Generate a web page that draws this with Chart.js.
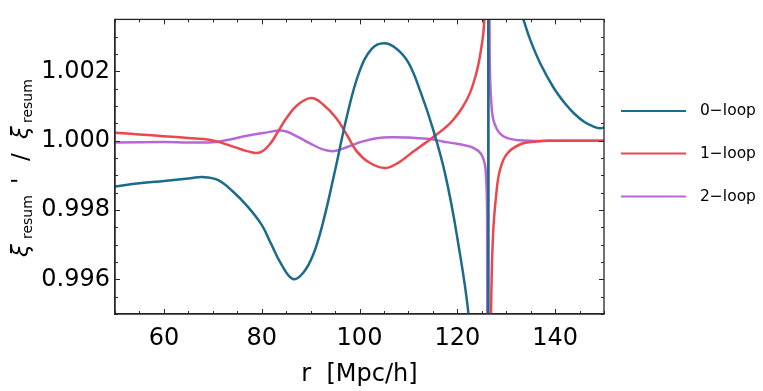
<!DOCTYPE html>
<html>
<head>
<meta charset="utf-8">
<script src="https://cdn.jsdelivr.net/npm/chart.js@4/dist/chart.umd.min.js"></script>
<style>
html, body { margin: 0; padding: 0; background: #fff; }
#wrap { width: 763px; height: 391px; }
</style>
</head>
<body>
<div id="wrap"><canvas id="grafico" width="763" height="391"></canvas></div>
<script>
// --- dados
const r0 = [50, 55, 60, 65, 68, 71, 74, 77, 80, 82, 84, 86.4, 88.5, 90.5, 92.5, 95, 97.5, 100, 102.5, 105, 107.5, 110, 112.5, 115, 117.5, 120, 122.5, 124.5, 126.3, 126.35, 128, 131, 133.5, 135, 137, 139.6, 142, 144, 146, 148, 149.2, 150];
const loop0 = [0.99868, 0.99877, 0.99884, 0.99891, 0.99895, 0.99887, 0.99855, 0.99812, 0.99757, 0.99700, 0.99644, 0.99601, 0.99619, 0.99670, 0.99762, 0.99914, 1.00075, 1.00200, 1.00265, 1.00281, 1.00266, 1.00225, 1.00140, 1.00035, 0.99905, 0.99720, 0.99470, 0.99000, 0.97000, 1.03000, 1.00800, 1.00450, 1.00350, 1.00288, 1.00222, 1.00155, 1.00108, 1.00077, 1.00054, 1.00040, 1.00036, 1.00038];

const r1 = [50, 55, 60, 65, 69.3, 72, 74.8, 77, 79.6, 81.6, 83.3, 85, 87.5, 90.2, 92.5, 95.3, 97.5, 99.4, 102, 105.2, 108, 110.3, 112.3, 114.4, 115.7, 117.5, 119.1, 121, 122.6, 123.8, 124.6, 125.5, 126.0, 126.2, 126.22, 126.25, 126.6, 126.9, 127.3, 128, 128.7, 130.1, 132.8, 136.2, 140, 145, 150];
const loop1 = [1.00023, 1.00018, 1.00013, 1.00008, 1.00003, 0.99993, 0.99980, 0.99970, 0.99966, 0.99989, 1.00025, 1.00064, 1.00105, 1.00123, 1.00105, 1.00064, 1.00015, 0.99970, 0.99937, 0.99921, 0.99937, 0.99961, 0.99982, 1.00003, 1.00017, 1.00037, 1.00059, 1.00095, 1.00138, 1.00190, 1.00241, 1.00344, 1.00800, 1.03000, null, 0.97000, 0.99000, 0.99500, 0.99727, 0.99850, 0.99914, 0.99961, 0.99989, 0.99998, 1.00000, 1.00000, 1.00000];

const r2 = [50, 60, 69.3, 73, 76.2, 80.3, 84.4, 87, 89.8, 92.5, 94.9, 97.5, 100.7, 103.5, 106.9, 110, 112.3, 114.4, 117, 119.1, 121.5, 123.2, 124.9, 125.8, 126.1, 126.25, 126.4, 126.6, 127.0, 128.0, 130.1, 134.9, 140, 150];
const loop2 = [0.99995, 0.99996, 0.99995, 1.00002, 1.00012, 1.00022, 1.00029, 1.00014, 0.99993, 0.99975, 0.99970, 0.99982, 0.99998, 1.00007, 1.00010, 1.00009, 1.00007, 1.00005, 0.99998, 0.99993, 0.99987, 0.99980, 0.99961, 0.99914, 0.99727, 0.98000, 1.02000, 1.00300, 1.00101, 1.00036, 1.00008, 1.00000, 1.00000, 1.00000];

const seriesNames = ["0\u2212loop", "1\u2212loop", "2\u2212loop"];
const seriesColors = ["#1b6b8b", "#e8484e", "#b767d6"];

const xTicks = [60, 80, 100, 120, 140];
const xMinor = [50, 55, 65, 70, 75, 85, 90, 95, 105, 110, 115, 125, 130, 135, 145, 150];
const yTicks = [0.996, 0.998, 1.000, 1.002];
const yMinor = [0.995, 0.9955, 0.9965, 0.997, 0.9975, 0.9985, 0.999, 0.9995, 1.0005, 1.001, 1.0015, 1.0025, 1.003];

const FONTE = "DejaVu Sans";
const COR_EIXO = "#262626";

// --- monta pares {x,y}
function pares(xs, ys) {
    return xs.map((x, i) => ({ x: x, y: ys[i] }));
}

// --- ticks para dentro em todos os lados + moldura
const ticksPlugin = {
    id: "ticksDentro",
    afterDraw(chart) {
        const ctx = chart.ctx;
        const a = chart.chartArea;
        const sx = chart.scales.x, sy = chart.scales.y;
        ctx.save();
        ctx.strokeStyle = COR_EIXO;
        ctx.lineWidth = 1.3;
        ctx.strokeRect(a.left, a.top, a.right - a.left, a.bottom - a.top);
        ctx.lineWidth = 1;
        ctx.beginPath();
        const marcaX = (v, len) => {
            const p = Math.round(sx.getPixelForValue(v)) + 0.5;
            ctx.moveTo(p, a.bottom); ctx.lineTo(p, a.bottom - len);
            ctx.moveTo(p, a.top); ctx.lineTo(p, a.top + len);
        };
        const marcaY = (v, len) => {
            const p = Math.round(sy.getPixelForValue(v)) + 0.5;
            ctx.moveTo(a.left, p); ctx.lineTo(a.left + len, p);
            ctx.moveTo(a.right, p); ctx.lineTo(a.right - len, p);
        };
        xTicks.forEach(v => marcaX(v, 5));
        xMinor.forEach(v => marcaX(v, 3));
        yTicks.forEach(v => marcaY(v, 5));
        yMinor.forEach(v => marcaY(v, 3));
        ctx.stroke();
        ctx.restore();
    }
};

// --- legenda fora da área, à direita
const legendaPlugin = {
    id: "legendaLinhas",
    afterDraw(chart) {
        const ctx = chart.ctx;
        const ys = [111, 153.5, 196.5];
        ctx.save();
        ctx.font = "15.5px '" + FONTE + "'";
        ctx.textBaseline = "middle";
        ctx.fillStyle = "#000";
        chart.data.datasets.forEach((ds, i) => {
            ctx.strokeStyle = ds.borderColor;
            ctx.lineWidth = 2.2;
            ctx.beginPath();
            ctx.moveTo(621, ys[i]);
            ctx.lineTo(686, ys[i]);
            ctx.stroke();
            ctx.fillText(ds.label, 700, ys[i]);
        });
        ctx.restore();
    }
};

// --- título do eixo y com subscritos
const tituloYPlugin = {
    id: "tituloY",
    afterDraw(chart) {
        const ctx = chart.ctx;
        const base = 28;
        const partes = [
            { t: "\u03be", ini: 257, f: "italic 23px", dv: 0 },
            { t: "resum", ini: 239, f: "14px", dv: 4 },
            { t: "'", ini: 184, f: "23px", dv: 0 },
            { t: "/", ini: 161, f: "23px", dv: 0 },
            { t: "\u03be", ini: 139, f: "italic 23px", dv: 0 },
            { t: "resum", ini: 123, f: "14px", dv: 4 }
        ];
        ctx.save();
        ctx.fillStyle = "#000";
        ctx.textBaseline = "alphabetic";
        ctx.textAlign = "left";
        partes.forEach(p => {
            ctx.save();
            ctx.translate(base + p.dv, p.ini);
            ctx.rotate(-Math.PI / 2);
            ctx.font = p.f + " '" + FONTE + "'";
            ctx.fillText(p.t, 0, 0);
            ctx.restore();
        });
        ctx.restore();
    }
};

const ctx = document.getElementById("grafico").getContext("2d");
const chart = new Chart(ctx, {
    type: "line",
    data: {
        datasets: [
            { label: seriesNames[0], data: pares(r0, loop0), borderColor: seriesColors[0] },
            { label: seriesNames[1], data: pares(r1, loop1), borderColor: seriesColors[1] },
            { label: seriesNames[2], data: pares(r2, loop2), borderColor: seriesColors[2] }
        ]
    },
    options: {
        responsive: false,
        animation: false,
        devicePixelRatio: 1,
        spanGaps: false,
        elements: {
            point: { radius: 0 },
            line: { borderWidth: 2.5, tension: 0.4, fill: false }
        },
        layout: { padding: { left: 0, right: 159, top: 12, bottom: 0 } },
        plugins: {
            legend: { display: false },
            tooltip: { enabled: false }
        },
        scales: {
            x: {
                type: "linear",
                min: 50, max: 150,
                grid: { display: false, drawTicks: false },
                border: { display: true, color: COR_EIXO, width: 1.3 },
                afterBuildTicks: s => { s.ticks = xTicks.map(v => ({ value: v })); },
                afterFit: s => { s.height = 77; },
                ticks: {
                    font: { family: FONTE, size: 24 },
                    color: "#000",
                    padding: 10,
                    maxRotation: 0,
                    callback: v => String(v)
                },
                title: {
                    display: true,
                    text: "r  [Mpc/h]",
                    font: { family: FONTE, size: 24 },
                    color: "#000",
                    padding: { top: 0, bottom: 2 }
                }
            },
            y: {
                type: "linear",
                min: 0.995, max: 1.0035,
                grid: { display: false, drawTicks: false },
                border: { display: true, color: COR_EIXO, width: 1.3 },
                afterBuildTicks: s => { s.ticks = yTicks.map(v => ({ value: v })); },
                afterFit: s => { s.width = 115; },
                ticks: {
                    font: { family: FONTE, size: 24 },
                    color: "#000",
                    padding: 5,
                    callback: v => Number(v).toFixed(3)
                }
            }
        }
    },
    plugins: [ticksPlugin, legendaPlugin, tituloYPlugin]
});
</script>
</body>
</html>
